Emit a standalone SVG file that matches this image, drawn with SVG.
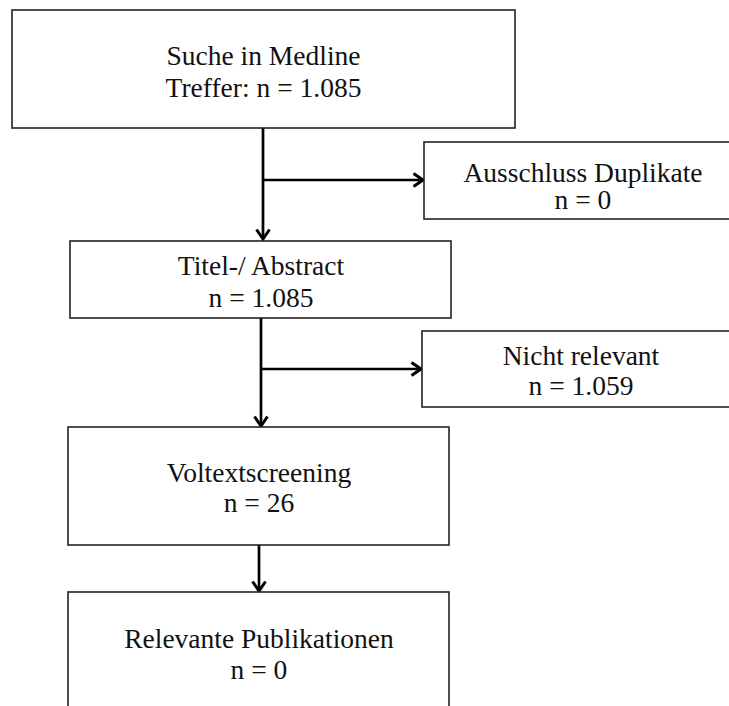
<svg xmlns="http://www.w3.org/2000/svg" width="729" height="706" viewBox="0 0 729 706">
<defs>
<style>
.box{fill:#fff;stroke:#222;stroke-width:1.6}
.t{font-family:"Liberation Serif","Times New Roman",serif;font-size:27.5px;fill:#111;text-anchor:middle}
.c{fill:none;stroke:#000;stroke-width:2.7}
</style>
<marker id="ah" viewBox="0 0 14 16" refX="12" refY="8" markerWidth="14" markerHeight="16" markerUnits="userSpaceOnUse" orient="auto">
<polyline points="2.5,1.5 12,8 2.5,14.5" fill="none" stroke="#000" stroke-width="3"/>
</marker>
</defs>
<rect width="729" height="706" fill="#fff"/>
<g id="connectors">
<line class="c" x1="263" y1="128" x2="263" y2="239" marker-end="url(#ah)"/>
<line class="c" x1="263" y1="180" x2="423" y2="180" marker-end="url(#ah)"/>
<line class="c" x1="261" y1="318" x2="261" y2="426" marker-end="url(#ah)"/>
<line class="c" x1="261" y1="369" x2="421" y2="369" marker-end="url(#ah)"/>
<line class="c" x1="259" y1="545" x2="259" y2="591" marker-end="url(#ah)"/>
</g>
<g id="n1">
<rect class="box" x="12" y="10" width="503" height="118"/>
<text class="t" x="263.5" y="65">Suche in Medline</text>
<text class="t" x="263.5" y="97">Treffer: n = 1.085</text>
</g>
<g id="n2">
<rect class="box" x="424" y="142" width="320" height="77"/>
<text class="t" x="583" y="181.5">Ausschluss Duplikate</text>
<text class="t" x="583" y="208.5">n = 0</text>
</g>
<g id="n3">
<rect class="box" x="70" y="241" width="381" height="77"/>
<text class="t" x="261" y="275">Titel-/ Abstract</text>
<text class="t" x="261" y="307">n = 1.085</text>
</g>
<g id="n4">
<rect class="box" x="422" y="331" width="320" height="76"/>
<text class="t" x="581" y="365">Nicht relevant</text>
<text class="t" x="581" y="395">n = 1.059</text>
</g>
<g id="n5">
<rect class="box" x="68" y="427" width="381" height="118"/>
<text class="t" x="259" y="482">Voltextscreening</text>
<text class="t" x="259" y="512">n = 26</text>
</g>
<g id="n6">
<rect class="box" x="68" y="592" width="381" height="130"/>
<text class="t" x="259" y="648">Relevante Publikationen</text>
<text class="t" x="259" y="679">n = 0</text>
</g>
</svg>
